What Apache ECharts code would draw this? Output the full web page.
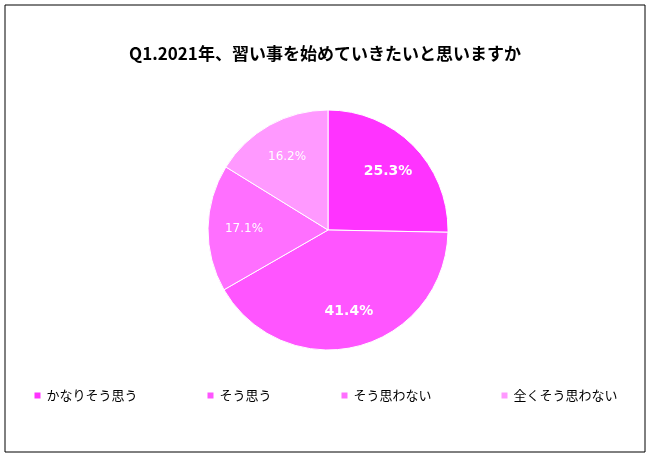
<!DOCTYPE html><html><head><meta charset="utf-8">
<script src="https://cdn.jsdelivr.net/npm/echarts@6/dist/echarts.min.js"></script>
<style>body{margin:0}#c{width:650px;height:457px}</style></head><body>
<div id="c"></div>
<script>
const categories=['かなりそう思う','そう思う','そう思わない','全くそう思わない'];
const values=[25.3,41.4,17.1,16.2];
const colors=['#FF33FF','#FF55FF','#FF6FFF','#FF99FF'];
const bold=[true,true,false,false];
const chart=echarts.init(document.getElementById('c'));
chart.setOption({
  animation:false,
  graphic:[{type:'rect',z:-1,shape:{x:5,y:5,width:640,height:447},style:{fill:'#fff',stroke:'#000',lineWidth:1}}],
  title:{text:'Q1.2021年、習い事を始めていきたいと思いますか',left:'center',top:40,textStyle:{fontSize:17,fontWeight:'bold',color:'#000',fontFamily:'Noto Sans CJK JP'}},
  legend:{bottom:50,left:'center',itemWidth:8,itemHeight:8,itemGap:68,icon:'rect',textStyle:{fontSize:13,color:'#000',fontFamily:'Noto Sans CJK JP'},data:categories},
  series:[{type:'pie',center:[328,230],radius:[0,120],startAngle:90,clockwise:true,
    label:{show:false},labelLine:{show:false},
    itemStyle:{borderColor:'#fff',borderWidth:1},
    data:categories.map((n,i)=>({name:n,value:values[i],itemStyle:{color:colors[i]}}))},
   {type:'pie',center:[328,230],radius:[0,162],startAngle:90,clockwise:true,silent:true,z:5,
    label:{position:'inside',color:'#fff',fontSize:13,fontFamily:'DejaVu Sans',formatter:p=>p.value.toFixed(1)+'%'},
    labelLine:{show:false},
    itemStyle:{color:'rgba(0,0,0,0)'},
    data:categories.map((n,i)=>({name:n,value:values[i],label:{fontWeight:bold[i]?'bold':'normal',fontSize:bold[i]?14:12}}))}]
});
</script></body></html>
